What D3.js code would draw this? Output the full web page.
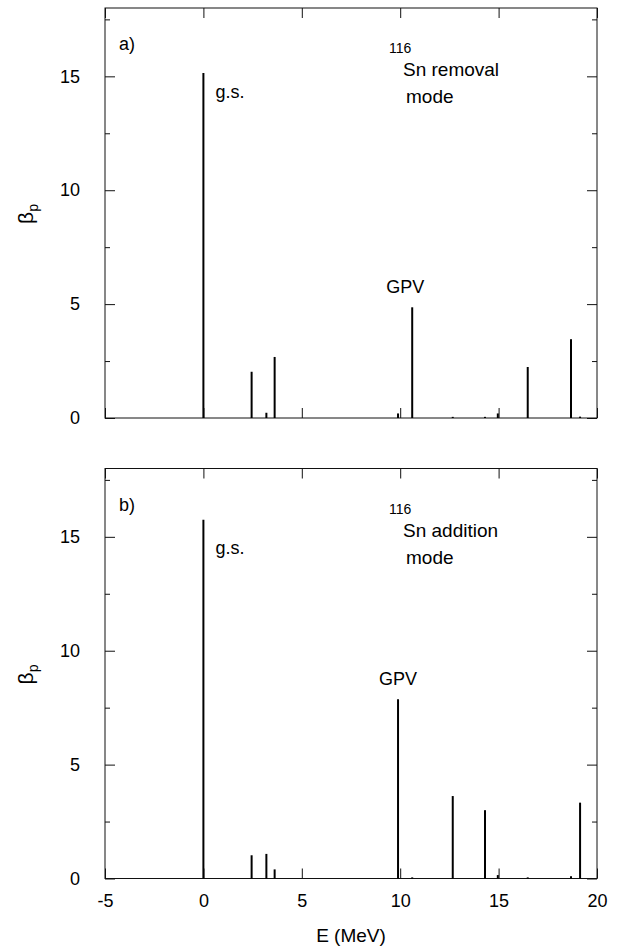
<!DOCTYPE html>
<html lang="en">
<head>
<meta charset="UTF-8">
<title>Sn116 strength</title>
<script src="https://cdn.jsdelivr.net/npm/d3@7"></script>
<style>
  body { margin: 0; background: #fff; }
  text { font-family: "Liberation Sans", Arial, sans-serif; fill: #000; }
</style>
</head>
<body>
<svg width="622" height="949"></svg>
<script>
// excitation energies (MeV) shared by both panels
const energy   = [0, 2.45, 3.2, 3.62, 9.89, 10.61, 12.67, 14.31, 14.96, 16.48, 18.68, 19.14];
const removal  = [15.15, 2.03, 0.23, 2.68, 0.2, 4.86, 0.05, 0.05, 0.2, 2.24, 3.46, 0.06];
const addition = [15.75, 1.02, 1.08, 0.40, 7.87, 0.05, 3.62, 3.0, 0.15, 0.05, 0.1, 3.33];

const xTicks  = [-5, 0, 5, 10, 15, 20];
const yMajor  = [0, 5, 10, 15];
const yMinor  = [2.5, 7.5, 12.5, 17.5];

const svg = d3.select('svg');
const left = 105, right = 597, ph = 410;
const FONT = '"Liberation Sans", Arial, sans-serif';

const x = d3.scaleLinear().domain([-5, 20]).range([left, right]);

function drawPanel(top, vals, o) {
    const y = d3.scaleLinear().domain([0, 18]).range([top + ph, top]);
    const g = svg.append('g');

    // frame
    g.append('rect')
        .attr('x', left).attr('y', top)
        .attr('width', right - left).attr('height', ph)
        .attr('fill', 'none').attr('stroke', '#111').attr('stroke-width', 1);

    const tickStyle = sel => {
        sel.select('.domain').remove();
        sel.selectAll('line').attr('stroke', '#111');
        sel.selectAll('text').attr('font-size', 18).attr('fill', '#000').attr('font-family', FONT);
    };

    // left axis
    g.append('g').attr('transform', `translate(${left},0)`)
        .call(d3.axisLeft(y).tickValues(yMajor).tickSizeInner(-10).tickSizeOuter(0).tickPadding(25).tickFormat(d => String(d)))
        .call(tickStyle);
    g.append('g').attr('transform', `translate(${left},0)`)
        .call(d3.axisLeft(y).tickValues(yMinor).tickSize(-5).tickFormat(''))
        .call(tickStyle);
    // right axis
    g.append('g').attr('transform', `translate(${right},0)`)
        .call(d3.axisRight(y).tickValues(yMajor).tickSize(-10).tickFormat(''))
        .call(tickStyle);
    g.append('g').attr('transform', `translate(${right},0)`)
        .call(d3.axisRight(y).tickValues(yMinor).tickSize(-5).tickFormat(''))
        .call(tickStyle);
    // top and bottom axes
    g.append('g').attr('transform', `translate(0,${top})`)
        .call(d3.axisTop(x).tickValues(xTicks).tickSize(-10).tickFormat(''))
        .call(tickStyle);
    g.append('g').attr('transform', `translate(0,${top + ph})`)
        .call(d3.axisBottom(x).tickValues(xTicks).tickSizeInner(-10).tickSizeOuter(0).tickPadding(16)
            .tickFormat(o.showX ? (d => String(d)) : ''))
        .call(tickStyle);

    // strength lines
    g.append('g').selectAll('line')
        .data(energy.map((e, i) => ({ e, v: vals[i] })))
        .join('line')
        .attr('x1', d => x(d.e)).attr('x2', d => x(d.e))
        .attr('y1', y(0)).attr('y2', d => y(d.v))
        .attr('stroke', '#000').attr('stroke-width', 2);

    // labels
    g.append('text').attr('x', 119).attr('y', top + 42).attr('font-size', 18).text(o.tag);
    g.append('text').attr('x', x(0) + 12).attr('y', top + o.gsY).attr('font-size', 18).text('g.s.');
    g.append('text').attr('x', x(energy[o.gpv]) + o.gpvDx).attr('y', y(vals[o.gpv]) - 14)
        .attr('text-anchor', 'middle').attr('font-size', 18).text('GPV');
    g.append('text').attr('x', 389).attr('y', top + 45).attr('font-size', 14).text('116');
    g.append('text').attr('x', 403).attr('y', top + 68).attr('font-size', 19).text('Sn ' + o.mode);
    g.append('text').attr('x', 406).attr('y', top + 95).attr('font-size', 19).text('mode');

    // y label beta_p
    const yl = g.append('text')
        .attr('transform', `translate(33,${top + 206}) rotate(-90)`)
        .attr('text-anchor', 'middle').attr('font-size', 21);
    yl.append('tspan').text('β');
    yl.append('tspan').attr('font-size', 14).attr('dy', 5).text('p');
}

drawPanel(8, removal, { tag: 'a)', mode: 'removal', showX: false, gsY: 90, gpv: 5, gpvDx: -7 });
drawPanel(468.5, addition, { tag: 'b)', mode: 'addition', showX: true, gsY: 85, gpv: 4, gpvDx: 0 });

svg.append('text').attr('x', (left + right) / 2).attr('y', 942)
    .attr('text-anchor', 'middle').attr('font-size', 19).text('E (MeV)');
</script>
</body>
</html>
